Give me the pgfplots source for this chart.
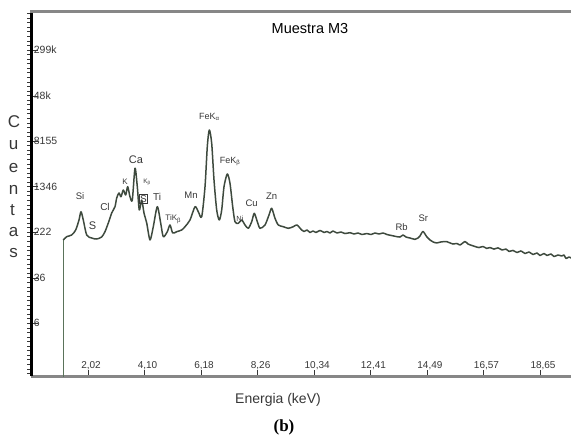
\documentclass[border=0pt]{standalone}
\usepackage{fontspec}
\setmainfont{Liberation Sans}
\newfontfamily\timesfont{Liberation Serif}
\usepackage{pgfplots}
\pgfplotsset{compat=1.18}

\definecolor{spec}{RGB}{62,74,62}
\definecolor{edgegreen}{RGB}{90,115,90}
\definecolor{labelgray}{RGB}{55,55,55}
\definecolor{rulegray}{RGB}{135,135,135}

% XRF spectrum, sample M3: energy (keV) vs counts
% rising edge of the detector window
\pgfplotstableread{
x y
1.111 0.4
1.111 161.8
}\edge
% measured spectrum
\pgfplotstableread{
x y
1.111 161.8
1.236 184.5
1.420 197.2
1.567 240.4
1.689 357
1.762 495.5
1.847 357
1.972 197
2.156 175
2.340 168.3
2.524 182.4
2.645 224.8
2.767 317
2.892 471
3.013 604
3.076 853
3.160 1039
3.234 897
3.319 1169
3.407 960
3.480 1333
3.565 897
3.650 787
3.749 2761
3.834 1333
3.907 530
3.996 787
4.080 471
4.180 317
4.301 162
4.422 274
4.570 604
4.694 317
4.790 184.5
4.937 224.8
5.037 293
5.136 213.5
5.283 224.8
5.467 240.4
5.589 274
5.773 357
5.957 604
6.078 495.5
6.203 406
6.325 1333
6.409 6486
6.483 12560
6.571 7413
6.656 1738
6.755 530
6.851 357
6.939 530
7.024 1333
7.145 2203
7.244 1525
7.344 604
7.428 334
7.550 313
7.675 357
7.796 293
7.918 257
8.043 334
8.138 466
8.249 334
8.348 257
8.532 293
8.679 435
8.778 567
8.900 382
9.021 293
9.205 274
9.389 257
9.573 274
9.709 293
9.882 240
9.967 226.5
10.077 240
10.187 218
10.298 231
10.408 218
10.556 236
10.703 218
10.813 226.5
10.923 213.5
11.034 231
11.181 213.5
11.328 222
11.475 209
11.659 216
11.807 205
11.954 213.5
12.101 201
12.274 209
12.432 201
12.579 213.5
12.726 205
12.873 213.5
13.020 201
13.193 193
13.351 186
13.499 182
13.609 197
13.720 182
13.867 175
14.051 166
14.161 175
14.235 190
14.345 226.5
14.481 184.5
14.603 162
14.713 150
14.849 144
15.007 150
15.217 152
15.338 144
15.449 138
15.596 141
15.707 133
15.890 152
16.000 138
16.148 130
16.258 125
16.405 120
16.553 125
16.689 116
16.810 120
16.957 113
17.105 118.5
17.252 109
17.399 113
17.510 103
17.657 107
17.804 98.7
17.951 105
18.098 94.8
18.245 100.7
18.392 91.2
18.539 96.8
18.650 87.7
18.797 94.8
18.907 87.7
19.054 93
19.164 84.3
19.312 89.4
19.448 85.9
19.533 89.4
19.606 77.8
19.716 82.6
19.827 77.8
}\spectrum

\begin{document}
\begin{tikzpicture}[x=1pt,y=1pt]
\useasboundingbox (0,0) rectangle (571,439);

\begin{axis}[
  at={(31.3pt,62.5pt)}, anchor=south west,
  scale only axis, width=539.7pt, height=365pt,
  xmin=-0.066, xmax=19.79,
  ymode=log, ymin=0.731, ymax=1.364e6,
  axis x line*=bottom, axis y line*=left,
  x axis line style={rulegray, line width=3pt},
  y axis line style={black, line width=2.6pt},
  tick align=inside,
  major tick length=6.5pt, minor tick length=2.5pt,
  tick style={labelgray, line width=0.7pt},
  xtick={2.02,4.10,6.18,8.26,10.34,12.41,14.49,16.57,18.65},
  xticklabels={{2,02},{4,10},{6,18},{8,26},{10,34},{12,41},{14,49},{16,57},{18,65}},
  minor x tick num=9,
  ytick={6,36,222,1346,8155,48000,299000},
  yticklabels={6,36,222,1346,8155,48k,299k},
  yminorticks=false,
  /pgf/number format/assume math mode=true,
  xticklabel style={anchor=south, xshift=3pt, yshift=3pt,
    font=\fontsize{10}{11}\selectfont, text=labelgray},
  yticklabel style={anchor=west, xshift=-1pt,
    font=\fontsize{10.5}{11}\selectfont, text=labelgray},
]
\addplot[edgegreen, line width=1pt, no markers] table[x=x, y=y] {\edge};
\addplot[spec, line width=1.5pt, line join=round, no markers, smooth, tension=0.45]
  table[x=x, y=y] {\spectrum};
\end{axis}

% top rule of the frame
\draw[rulegray, line width=3pt] (30,427.5) -- (571,427.5);
% fine ruler ticks on the outer side of the counts axis
\foreach \k in {-11,...,68}
  \draw[labelgray, line width=0.6pt] (30,115.7+\k*4.555) -- ++(-3.2,0);

% title and axis labels
\node[font=\fontsize{14.5}{16}\selectfont] at (310,410) {Muestra M3};
\node[font=\fontsize{14}{16}\selectfont, text=labelgray] at (278,39) {Energia (keV)};
\node[font=\timesfont\bfseries\fontsize{17}{19}\selectfont] at (284,12) {(b)};
\begin{scope}[every node/.style={font=\fontsize{17}{18}\selectfont, text=labelgray}]
  \node at (14,317.3) {C};
  \node at (13.5,294) {u};
  \node at (13.5,271) {e};
  \node at (13.5,249) {n};
  \node at (12.5,229) {t};
  \node at (13.5,207.3) {a};
  \node at (13.5,186) {s};
\end{scope}

% line identifications
\begin{scope}[every node/.style={font=\fontsize{9.5}{11}\selectfont, text=labelgray, inner sep=0.5pt}]
  \node at (80,243) {Si};
  \node[font=\fontsize{11}{12}\selectfont] at (92.5,213) {S};
  \node[font=\fontsize{10}{11}\selectfont] at (105,232) {Cl};
  \node[font=\fontsize{8}{9}\selectfont] at (125,257) {K};
  \node[font=\fontsize{11}{12}\selectfont] at (136,279) {Ca};
  \node[font=\fontsize{6.5}{7}\selectfont] at (147,257) {K\textsubscript{β}};
  \node[draw=labelgray, line width=0.6pt, font=\fontsize{10}{11}\selectfont, inner sep=0.8pt] at (143.5,240) {S};
  \node[font=\fontsize{10}{11}\selectfont] at (157,242) {Ti};
  \node[font=\fontsize{8}{9}\selectfont] at (173.3,220) {TiK\textsubscript{β}};
  \node at (191,243.5) {Mn};
  \node[font=\fontsize{9}{10}\selectfont] at (209.3,322.3) {FeK\textsubscript{α}};
  \node[font=\fontsize{9}{10}\selectfont] at (230,277.3) {FeK\textsubscript{β}};
  \node[font=\fontsize{7.5}{8}\selectfont] at (240,220.7) {Ni};
  \node at (251.7,235.7) {Cu};
  \node at (271.7,242.3) {Zn};
  \node at (401.7,212.3) {Rb};
  \node at (423.3,220.7) {Sr};
\end{scope}
\end{tikzpicture}
\end{document}
